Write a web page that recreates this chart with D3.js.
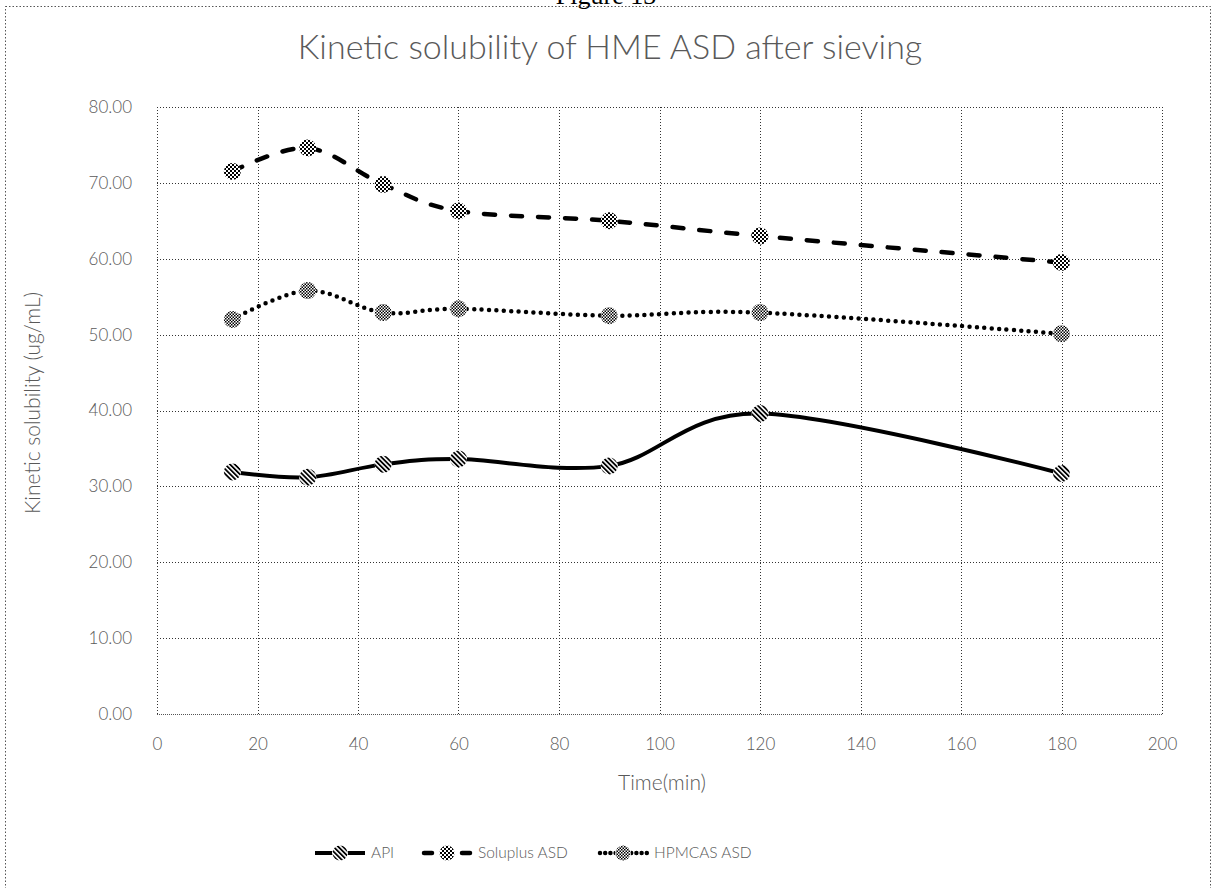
<!DOCTYPE html>
<html>
<head>
<meta charset="utf-8">
<script src="https://cdn.jsdelivr.net/npm/d3@7"></script>
<style>
  html, body { margin: 0; padding: 0; background: #fff; }
  svg { display: block; }
  text { font-family: Lato, "Open Sans", "Noto Sans", sans-serif; }
</style>
</head>
<body>
<svg id="chart" width="1218" height="888"></svg>
<script>
// Sampling times (min)
const times = [15, 30, 45, 60, 90, 120, 180];
// Kinetic solubility (ug/mL) per formulation
const apiValues      = [31.9, 31.2, 32.9, 33.6, 32.7, 39.6, 31.7];
const soluplusValues = [71.5, 74.6, 69.8, 66.3, 65.0, 63.0, 59.5];
const hpmcasValues   = [52.0, 55.8, 52.9, 53.4, 52.5, 52.9, 50.1];
const seriesNames = ["API", "Soluplus ASD", "HPMCAS ASD"];
const xTicks = [0, 20, 40, 60, 80, 100, 120, 140, 160, 180, 200];
const yTicks = [0, 10, 20, 30, 40, 50, 60, 70, 80];

const svg = d3.select("#chart");
const textColor = "#595959";

// Fill patterns for the markers
const defs = svg.append("defs");
const stripes = defs.append("pattern").attr("id", "pat-stripes")
  .attr("patternUnits", "userSpaceOnUse").attr("width", 3.4).attr("height", 3.4)
  .attr("patternTransform", "rotate(-45)");
stripes.append("rect").attr("width", 3.4).attr("height", 3.4).attr("fill", "#fff");
stripes.append("rect").attr("width", 1.8).attr("height", 3.4).attr("fill", "#000");

const checker = defs.append("pattern").attr("id", "pat-checker")
  .attr("patternUnits", "userSpaceOnUse").attr("width", 4).attr("height", 4);
checker.append("rect").attr("width", 4).attr("height", 4).attr("fill", "#fff");
checker.append("rect").attr("width", 2).attr("height", 2).attr("fill", "#000");
checker.append("rect").attr("x", 2).attr("y", 2).attr("width", 2).attr("height", 2).attr("fill", "#000");

const fine = defs.append("pattern").attr("id", "pat-fine")
  .attr("patternUnits", "userSpaceOnUse").attr("width", 3).attr("height", 3);
fine.append("rect").attr("width", 3).attr("height", 3).attr("fill", "#fff");
fine.append("rect").attr("width", 1.5).attr("height", 1.5).attr("fill", "#000");
fine.append("rect").attr("x", 1.5).attr("y", 1.5).attr("width", 1.5).attr("height", 1.5).attr("fill", "#000");

// Caption above the chart frame (its upper part runs past the top edge)
svg.append("text")
  .attr("x", 606).attr("y", 4)
  .attr("text-anchor", "middle")
  .style("font-family", "'Liberation Serif', 'DejaVu Serif', serif")
  .style("font-size", "26px")
  .attr("fill", "#000")
  .text("Figure 13");

// Chart frame
svg.append("rect")
  .attr("x", 5.5).attr("y", 6.5).attr("width", 1205).attr("height", 890)
  .attr("fill", "none").attr("stroke", "#555").attr("stroke-width", 1)
  .attr("stroke-dasharray", "1.5,2");

// Title
svg.append("text")
  .attr("x", 610).attr("y", 59)
  .attr("text-anchor", "middle")
  .style("font-size", "34px").style("font-weight", 300)
  .attr("fill", textColor)
  .text("Kinetic solubility of HME ASD after sieving");

// Scales
const x = d3.scaleLinear().domain([0, 200]).range([157, 1162]);
const y = d3.scaleLinear().domain([0, 80]).range([714, 107]);

// Gridlines
const grid = svg.append("g");
grid.selectAll(".hg").data(yTicks.filter(d => d > 0)).join("line")
  .attr("x1", x(0)).attr("x2", x(200))
  .attr("y1", d => Math.round(y(d)) + 0.5).attr("y2", d => Math.round(y(d)) + 0.5)
  .attr("stroke", "#333").attr("stroke-width", 1).attr("stroke-dasharray", "1,2");
grid.selectAll(".vg").data(xTicks).join("line")
  .attr("y1", y(80)).attr("y2", y(0))
  .attr("x1", d => Math.round(x(d)) + 0.5).attr("x2", d => Math.round(x(d)) + 0.5)
  .attr("stroke", "#333").attr("stroke-width", 1).attr("stroke-dasharray", "1,2");
// Category axis baseline
grid.append("line")
  .attr("x1", x(0)).attr("x2", x(200))
  .attr("y1", Math.round(y(0)) + 0.5).attr("y2", Math.round(y(0)) + 0.5)
  .attr("stroke", "#555").attr("stroke-width", 1).attr("stroke-dasharray", "1,1");

// Tick labels via d3 axes (no domain/tick lines)
const yAxis = svg.append("g").attr("transform", `translate(${x(0) - 22},0)`)
  .call(d3.axisLeft(y).tickValues(yTicks).tickSize(0).tickFormat(d3.format(".2f")));
const xAxis = svg.append("g").attr("transform", `translate(0,${y(0) + 21})`)
  .call(d3.axisBottom(x).tickValues(xTicks).tickSize(0).tickFormat(d3.format("d")));
[yAxis, xAxis].forEach(a => {
  a.select(".domain").remove();
  a.selectAll("text")
    .style("font-family", "Lato, 'Open Sans', sans-serif")
    .style("font-size", "17px").style("font-weight", 300)
    .attr("fill", textColor);
});
xAxis.selectAll("text").attr("dy", "0.71em");

// Axis titles
svg.append("text")
  .attr("x", 662).attr("y", 790)
  .attr("text-anchor", "middle")
  .style("font-size", "21px").style("font-weight", 300)
  .attr("fill", textColor)
  .text("Time(min)");
svg.append("text")
  .attr("transform", `translate(40,${403}) rotate(-90)`)
  .attr("text-anchor", "middle")
  .style("font-size", "21px").style("font-weight", 300)
  .attr("fill", textColor)
  .text("Kinetic solubility (ug/mL)");

// Series
const series = [
  { name: seriesNames[0], values: apiValues, dash: null, width: 4, pattern: "pat-stripes" },
  { name: seriesNames[1], values: soluplusValues, dash: "11,16", width: 4.5, pattern: "pat-checker" },
  { name: seriesNames[2], values: hpmcasValues, dash: "0,7.4", width: 4.5, pattern: "pat-fine" }
];

const line = d3.line()
  .x((d, i) => x(times[i]))
  .y(d => y(d))
  .curve(d3.curveCardinal.tension(0));

const plot = svg.append("g");
series.forEach(s => {
  plot.append("path")
    .attr("d", line(s.values))
    .attr("fill", "none")
    .attr("stroke", "#000")
    .attr("stroke-width", s.width)
    .attr("stroke-linecap", "round")
    .attr("stroke-linejoin", "round")
    .attr("stroke-dasharray", s.dash);
});
series.forEach(s => {
  const g = plot.append("g");
  g.selectAll("circle.bg").data(s.values).join("circle")
    .attr("cx", (d, i) => x(times[i])).attr("cy", d => y(d)).attr("r", 8.5)
    .attr("fill", "#fff");
  g.selectAll("circle.fg").data(s.values).join("circle")
    .attr("cx", (d, i) => x(times[i])).attr("cy", d => y(d)).attr("r", 8.5)
    .attr("fill", `url(#${s.pattern})`);
});

// Legend
const legendY = 853;
const legendX = [315, 422, 598];
const legend = svg.append("g");
series.forEach((s, i) => {
  const x0 = legendX[i];
  const g = legend.append("g");
  if (s.dash === null) {
    g.append("line").attr("x1", x0).attr("x2", x0 + 50)
      .attr("y1", legendY).attr("y2", legendY)
      .attr("stroke", "#000").attr("stroke-width", s.width);
  } else if (i === 1) {
    [[x0 + 2, x0 + 10], [x0 + 40, x0 + 48]].forEach(seg => {
      g.append("line").attr("x1", seg[0]).attr("x2", seg[1])
        .attr("y1", legendY).attr("y2", legendY)
        .attr("stroke", "#000").attr("stroke-width", s.width).attr("stroke-linecap", "round");
    });
  } else {
    g.append("line").attr("x1", x0 + 2).attr("x2", x0 + 50)
      .attr("y1", legendY).attr("y2", legendY)
      .attr("stroke", "#000").attr("stroke-width", s.width)
      .attr("stroke-linecap", "round").attr("stroke-dasharray", "0,5.2");
  }
  g.append("circle").attr("cx", x0 + 25).attr("cy", legendY).attr("r", 8).attr("fill", "#fff");
  g.append("circle").attr("cx", x0 + 25).attr("cy", legendY).attr("r", 7.5)
    .attr("fill", `url(#${s.pattern})`);
  g.append("text").attr("x", x0 + 56).attr("y", legendY).attr("dy", "0.35em")
    .style("font-size", "15.5px").style("font-weight", 300)
    .attr("fill", textColor)
    .text(s.name);
});
</script>
</body>
</html>
